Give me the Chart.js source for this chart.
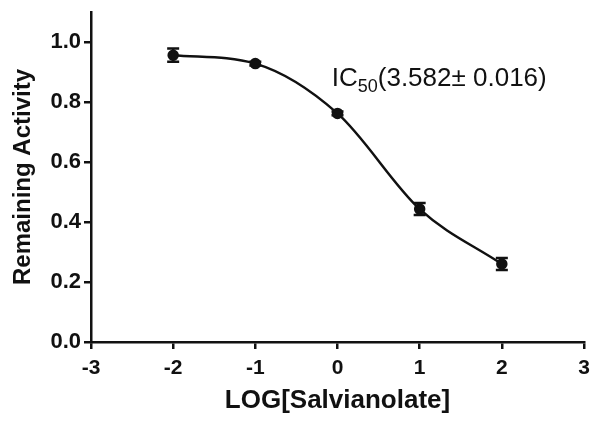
<!DOCTYPE html>
<html>
<head>
<meta charset="utf-8">
<script src="https://cdn.jsdelivr.net/npm/chart.js@4"></script>
<style>
  html, body { margin: 0; padding: 0; background: #fff; }
  #wrap { width: 600px; height: 426px; }
</style>
</head>
<body>
<div id="wrap"><canvas id="ic50Chart" width="600" height="426"></canvas></div>
<script>
// data
const logConc = [-2, -1, 0, 1, 2];
const activity = [0.956, 0.928, 0.762, 0.443, 0.26];
const activityErr = [0.022, 0.006, 0.006, 0.02, 0.02];
const xTicks = [-3, -2, -1, 0, 1, 2, 3];
const yTicks = [0, 0.2, 0.4, 0.6, 0.8, 1.0];

const FONT = "'Liberation Sans', Arial, sans-serif";

const errorBars = {
    id: 'errorBars',
    afterDatasetsDraw(chart) {
        const ctx = chart.ctx;
        const x = chart.scales.x;
        const y = chart.scales.y;
        ctx.save();
        ctx.strokeStyle = '#111';
        ctx.lineWidth = 2.5;
        logConc.forEach((v, i) => {
            const px = x.getPixelForValue(v);
            const top = y.getPixelForValue(activity[i] + activityErr[i]);
            const bot = y.getPixelForValue(activity[i] - activityErr[i]);
            ctx.beginPath();
            ctx.moveTo(px, top);
            ctx.lineTo(px, bot);
            ctx.moveTo(px - 6, top);
            ctx.lineTo(px + 6, top);
            ctx.moveTo(px - 6, bot);
            ctx.lineTo(px + 6, bot);
            ctx.stroke();
        });
        ctx.restore();
    }
};

const ic50Label = {
    id: 'ic50Label',
    afterDraw(chart) {
        const ctx = chart.ctx;
        const px = chart.scales.x.getPixelForValue(-0.07);
        const py = chart.scales.y.getPixelForValue(0.853);
        ctx.save();
        ctx.fillStyle = '#111';
        ctx.textBaseline = 'alphabetic';
        ctx.font = '26px ' + FONT;
        ctx.fillText('IC', px, py);
        let w = ctx.measureText('IC').width;
        ctx.font = '18px ' + FONT;
        ctx.fillText('50', px + w, py + 6);
        w += ctx.measureText('50').width;
        ctx.font = '26px ' + FONT;
        ctx.fillText('(3.582\u00b1 0.016)', px + w, py);
        ctx.restore();
    }
};

new Chart(document.getElementById('ic50Chart').getContext('2d'), {
    type: 'scatter',
    data: {
        datasets: [{
            data: logConc.map((v, i) => ({ x: v, y: activity[i] })),
            showLine: true,
            cubicInterpolationMode: 'monotone',
            borderColor: '#111',
            borderWidth: 2.5,
            backgroundColor: '#111',
            pointRadius: 4.5,
            pointHoverRadius: 4.5
        }]
    },
    options: {
        responsive: false,
        animation: false,
        layout: { padding: { top: 12, right: 16, left: 0, bottom: 10 } },
        plugins: {
            legend: { display: false },
            tooltip: { enabled: false }
        },
        scales: {
            x: {
                type: 'linear',
                min: -3,
                max: 3,
                afterBuildTicks: (axis) => { axis.ticks = xTicks.map(v => ({ value: v })); },
                afterFit: (axis) => { axis.height = 74; },
                border: { color: '#111', width: 2.5 },
                grid: { drawOnChartArea: false, color: '#111', tickLength: 7, lineWidth: 2.5 },
                ticks: { color: '#111', font: { family: FONT, size: 21, weight: 'bold' }, padding: 7 },
                title: {
                    display: true,
                    text: 'LOG[Salvianolate]',
                    color: '#111',
                    font: { family: FONT, size: 26, weight: 'bold' },
                    padding: 0
                }
            },
            y: {
                type: 'linear',
                min: 0,
                max: 1.1,
                afterBuildTicks: (axis) => { axis.ticks = yTicks.map(v => ({ value: v })); },
                afterFit: (axis) => {
                    axis.width = 91;
                    axis.paddingTop = 0;
                    axis.paddingBottom = 0;
                },
                border: { color: '#111', width: 2.5 },
                grid: { drawOnChartArea: false, color: '#111', tickLength: 7, lineWidth: 2.5 },
                ticks: {
                    color: '#111',
                    font: { family: FONT, size: 22, weight: 'bold' },
                    padding: 3,
                    callback: (v) => v.toFixed(1)
                },
                title: {
                    display: true,
                    text: 'Remaining Activity',
                    color: '#111',
                    font: { family: FONT, size: 24, weight: 'bold' },
                    padding: { top: 9, bottom: 0 }
                }
            }
        }
    },
    plugins: [errorBars, ic50Label]
});
</script>
</body>
</html>
